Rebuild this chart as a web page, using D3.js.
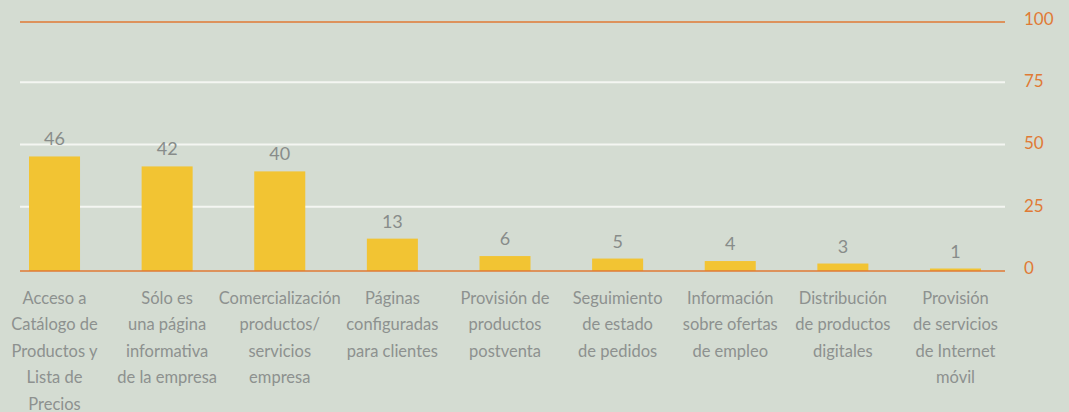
<!DOCTYPE html>
<html>
<head>
<meta charset="utf-8">
<script src="https://cdn.jsdelivr.net/npm/d3@7"></script>
<style>
  html, body { margin: 0; padding: 0; background: #d4dcd2; }
  svg { display: block; }
  text { font-family: Lato, "Open Sans", sans-serif; }
</style>
</head>
<body>
<svg id="chart" width="1069" height="412"></svg>
<script>
// Categories (each entry is the list of lines of its label)
const categories = [
  ["Acceso a", "Catálogo de", "Productos y", "Lista de", "Precios"],
  ["Sólo es", "una página", "informativa", "de la empresa"],
  ["Comercialización", "productos/", "servicios", "empresa"],
  ["Páginas", "configuradas", "para clientes"],
  ["Provisión de", "productos", "postventa"],
  ["Seguimiento", "de estado", "de pedidos"],
  ["Información", "sobre ofertas", "de empleo"],
  ["Distribución", "de productos", "digitales"],
  ["Provisión", "de servicios", "de Internet", "móvil"]
];
const values = [46, 42, 40, 13, 6, 5, 4, 3, 1];
const yTicks = [0, 25, 50, 75, 100];

const svg = d3.select("#chart");

const plotLeft = 20, plotRight = 1005;
const y = d3.scaleLinear().domain([0, 100]).range([271, 22]);

const x = d3.scaleBand()
  .domain(d3.range(categories.length))
  .range([-1.8, 1011.8])
  .paddingInner(0.547)
  .paddingOuter(0.2735);

// Horizontal gridlines (inner ones white)
svg.append("g")
  .selectAll("line")
  .data(yTicks.filter(t => t !== 0 && t !== 100))
  .join("line")
  .attr("x1", plotLeft).attr("x2", plotRight)
  .attr("y1", d => y(d) - 2).attr("y2", d => y(d) - 2)
  .attr("stroke", "#f4f6f2")
  .attr("stroke-width", 2);

// Top line in orange
svg.append("line")
  .attr("x1", plotLeft).attr("x2", plotRight)
  .attr("y1", y(100)).attr("y2", y(100))
  .attr("stroke", "#e07a35").attr("stroke-width", 1.5);

// Bars
svg.append("g")
  .selectAll("rect")
  .data(values)
  .join("rect")
  .attr("x", (d, i) => x(i))
  .attr("width", x.bandwidth())
  .attr("y", d => y(d))
  .attr("height", d => y(0) - y(d))
  .attr("fill", "#f2c433");

// Baseline
svg.append("line")
  .attr("x1", plotLeft).attr("x2", plotRight)
  .attr("y1", y(0)).attr("y2", y(0))
  .attr("stroke", "#e07a35").attr("stroke-width", 1.5);

// Value labels above bars
svg.append("g")
  .selectAll("text")
  .data(values)
  .join("text")
  .attr("x", (d, i) => x(i) + x.bandwidth() / 2)
  .attr("y", d => y(d) - 11)
  .attr("text-anchor", "middle")
  .attr("fill", "#888c8a")
  .attr("font-size", 18)
  .text(d => d);

// Right-hand axis labels
const axis = d3.axisRight(y).tickValues(yTicks).tickSize(0).tickPadding(0);
const ag = svg.append("g")
  .attr("transform", `translate(1024,-3)`)
  .call(axis);
ag.select(".domain").remove();
ag.selectAll("text")
  .attr("fill", "#e07a35")
  .attr("font-size", 17)
  .attr("font-family", "Lato, 'Open Sans', sans-serif");

// Category labels, centred under each bar
const lineH = 26.5;
const cg = svg.append("g");
categories.forEach((lines, i) => {
  const t = cg.append("text")
    .attr("x", x(i) + x.bandwidth() / 2)
    .attr("y", 304)
    .attr("text-anchor", "middle")
    .attr("fill", "#8d918f")
    .attr("font-size", 16.5);
  lines.forEach((ln, j) => {
    t.append("tspan")
      .attr("x", x(i) + x.bandwidth() / 2)
      .attr("y", 303.5 + j * lineH)
      .text(ln);
  });
});
</script>
</body>
</html>
